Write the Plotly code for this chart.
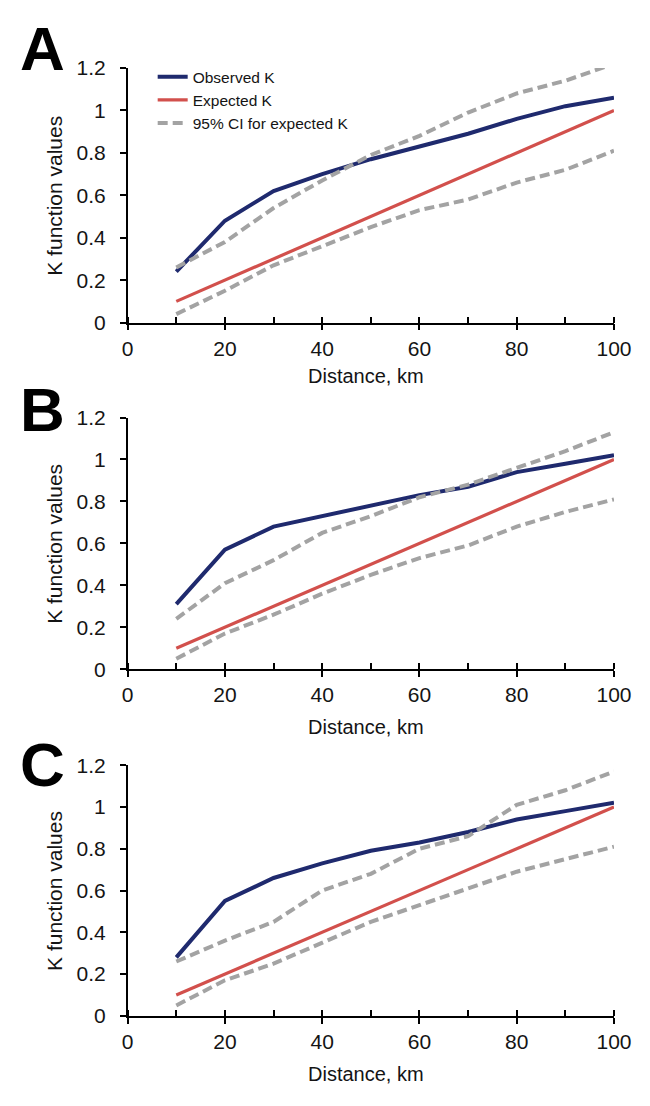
import plotly.graph_objects as go

distance_km = [10, 20, 30, 40, 50, 60, 70, 80, 90, 100]

# Panel A
obs_a = [0.24, 0.48, 0.62, 0.70, 0.77, 0.83, 0.89, 0.96, 1.02, 1.06]
exp_a = [0.1, 0.2, 0.3, 0.4, 0.5, 0.6, 0.7, 0.8, 0.9, 1.0]
ci_hi_a = [0.26, 0.38, 0.54, 0.67, 0.79, 0.88, 0.99, 1.08, 1.14, 1.22]
ci_lo_a = [0.04, 0.15, 0.27, 0.36, 0.45, 0.53, 0.58, 0.66, 0.72, 0.81]

# Panel B
obs_b = [0.31, 0.57, 0.68, 0.73, 0.78, 0.83, 0.87, 0.94, 0.98, 1.02]
exp_b = [0.1, 0.2, 0.3, 0.4, 0.5, 0.6, 0.7, 0.8, 0.9, 1.0]
ci_hi_b = [0.24, 0.41, 0.52, 0.65, 0.73, 0.82, 0.88, 0.96, 1.04, 1.13]
ci_lo_b = [0.05, 0.17, 0.26, 0.36, 0.45, 0.53, 0.59, 0.68, 0.75, 0.81]

# Panel C
obs_c = [0.28, 0.55, 0.66, 0.73, 0.79, 0.83, 0.88, 0.94, 0.98, 1.02]
exp_c = [0.1, 0.2, 0.3, 0.4, 0.5, 0.6, 0.7, 0.8, 0.9, 1.0]
ci_hi_c = [0.26, 0.36, 0.45, 0.60, 0.68, 0.80, 0.86, 1.01, 1.08, 1.17]
ci_lo_c = [0.05, 0.17, 0.25, 0.35, 0.45, 0.53, 0.61, 0.69, 0.75, 0.81]

panel_letters = ["A", "B", "C"]
legend_names = ["Observed K", "Expected K", "95% CI for expected K"]
x_title = "Distance, km"
y_title = "K function values"

NAVY = "#1F2A6E"
RED = "#D2504C"
GRAY = "#A3A3A3"
FONT = "Liberation Sans, Arial, sans-serif"
TXT = "#141414"

W, H = 650, 1106
# pixel geometry (top, bottom) for each panel's plotting area
panels_px = [(49, 309), (406, 663), (761, 1017)]
x_left_px, x_right_px = 118, 623
title_y_px = [364, 722, 1076]
letter_y_px = [29, 398, 760]

panels = [
    (obs_a, exp_a, ci_hi_a, ci_lo_a),
    (obs_b, exp_b, ci_hi_b, ci_lo_b),
    (obs_c, exp_c, ci_hi_c, ci_lo_c),
]

fig = go.Figure()
layout = dict(
    width=W, height=H,
    margin=dict(l=0, r=0, t=0, b=0),
    paper_bgcolor="white", plot_bgcolor="white",
    font=dict(family=FONT, color=TXT, size=18),
    showlegend=True,
    legend=dict(
        x=144 / W, y=1 - 41 / H, xanchor="left", yanchor="top",
        bgcolor="rgba(0,0,0,0)", borderwidth=0,
        font=dict(size=15.5, family=FONT, color=TXT),
        tracegroupgap=0, itemwidth=30,
    ),
    annotations=[],
)

for i, (obs, exp, hi, lo) in enumerate(panels):
    n = "" if i == 0 else str(i + 1)
    xa, ya = "x" + n, "y" + n
    show = i == 0
    fig.add_trace(go.Scatter(x=distance_km, y=obs, mode="lines", name=legend_names[0],
                             line=dict(color=NAVY, width=4), xaxis=xa, yaxis=ya,
                             showlegend=show, legendgroup="obs"))
    fig.add_trace(go.Scatter(x=distance_km, y=exp, mode="lines", name=legend_names[1],
                             line=dict(color=RED, width=3.2), xaxis=xa, yaxis=ya,
                             showlegend=show, legendgroup="exp"))
    fig.add_trace(go.Scatter(x=distance_km, y=hi, mode="lines", name=legend_names[2],
                             line=dict(color=GRAY, width=4, dash="10px,5px"), xaxis=xa, yaxis=ya,
                             showlegend=show, legendgroup="ci"))
    fig.add_trace(go.Scatter(x=distance_km, y=lo, mode="lines", name=legend_names[2],
                             line=dict(color=GRAY, width=4, dash="10px,5px"), xaxis=xa, yaxis=ya,
                             showlegend=False, legendgroup="ci"))

    top, bot = panels_px[i]
    layout["xaxis" + n] = dict(
        domain=[x_left_px / W, x_right_px / W], anchor=ya,
        range=[0, 100], dtick=20, tick0=0,
        showgrid=False, zeroline=False,
        showline=True, linecolor="black", linewidth=1.5,
        ticks="outside", ticklen=6, tickwidth=1.5, tickcolor="black",
        minor=dict(dtick=10, tick0=0, ticks="inside", ticklen=6, tickwidth=1.5, tickcolor="black"),
        ticklabelstandoff=0,
        tickfont=dict(size=21, family=FONT, color=TXT),
    )
    layout["yaxis" + n] = dict(
        domain=[1 - bot / H, 1 - top / H], anchor=xa,
        range=[0, 1.2], dtick=0.2, tick0=0,
        showgrid=False, zeroline=False,
        showline=True, linecolor="black", linewidth=1.5,
        ticks="outside", ticklen=6, tickwidth=1.5, tickcolor="black",
        ticklabelstandoff=10,
        tickfont=dict(size=21, family=FONT, color=TXT),
    )
    layout["annotations"].append(dict(
        text=x_title, xref="paper", yref="paper",
        x=365 / W, y=1 - title_y_px[i] / H, xanchor="center", yanchor="middle",
        showarrow=False, font=dict(size=20, family=FONT, color=TXT)))
    layout["annotations"].append(dict(
        text=y_title, xref="paper", yref="paper", textangle=-90,
        x=42 / W, y=1 - (top + bot) / 2 / H, xanchor="center", yanchor="middle",
        showarrow=False, font=dict(size=21, family=FONT, color=TXT)))
    layout["annotations"].append(dict(
        text="<b>" + panel_letters[i] + "</b>", xref="paper", yref="paper",
        x=4 / W, y=1 - letter_y_px[i] / H, xanchor="left", yanchor="middle",
        showarrow=False, font=dict(size=62, family=FONT, color="black")))

fig.update_layout(**layout)
fig.write_html("out.html")
